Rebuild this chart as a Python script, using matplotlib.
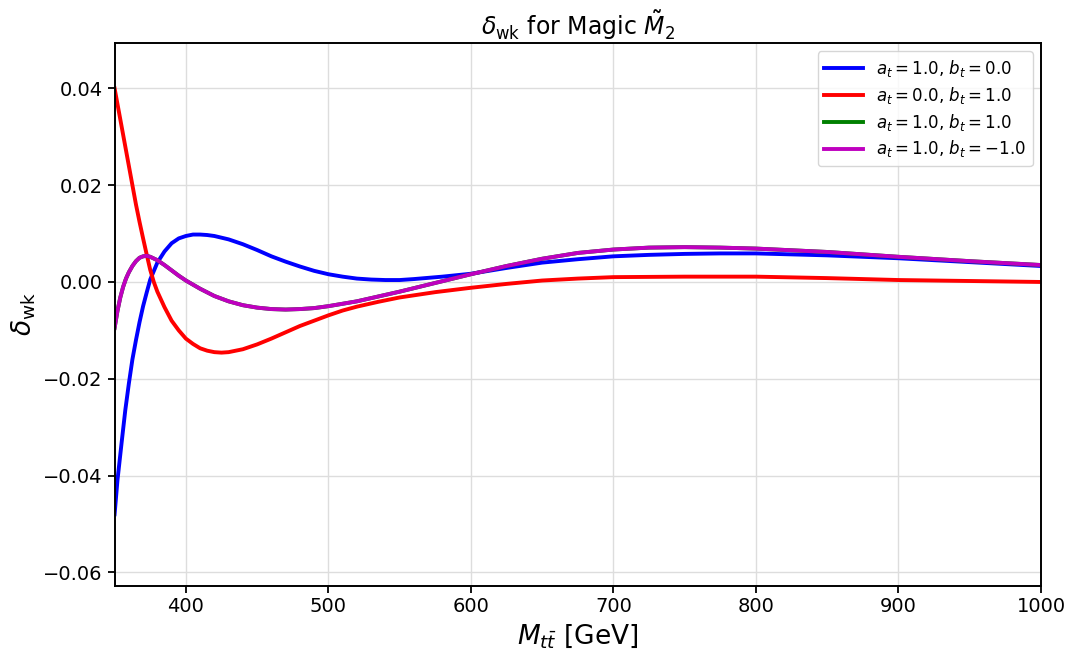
import matplotlib.pyplot as plt

# values
x_blue = [350, 352, 355, 357.5, 360, 362.5, 365, 367.5, 370, 372.5, 375, 380, 385, 390,
          395, 400, 405, 410, 415, 420, 430, 440, 450, 460, 470, 480, 490, 500, 510, 520,
          530, 540, 550, 560, 580, 600, 625, 650, 675, 700, 725, 750, 775, 800, 825, 850,
          875, 900, 950, 1000]
y_blue = [-0.048, -0.041, -0.033, -0.0265, -0.021, -0.016, -0.012, -0.0083, -0.005, -0.0022,
          0.0005, 0.004, 0.0063, 0.0080, 0.0090, 0.0095, 0.0098, 0.0098, 0.0097, 0.0095,
          0.0088, 0.0078, 0.0066, 0.0053, 0.0042, 0.0032, 0.0023, 0.0016, 0.0011, 0.0007,
          0.0005, 0.0004, 0.0004, 0.0006, 0.0011, 0.0017, 0.0029, 0.0040, 0.0047, 0.0053,
          0.0056, 0.0058, 0.0059, 0.0059, 0.0057, 0.0055, 0.0052, 0.0049, 0.0041, 0.0033]

x_red = [350, 352.5, 355, 357.5, 360, 362.5, 365, 367.5, 370, 372.5, 375, 377.5, 380, 385,
         390, 395, 400, 405, 410, 415, 420, 425, 430, 440, 450, 460, 470, 480, 490, 500,
         510, 520, 535, 550, 575, 600, 625, 650, 675, 700, 750, 800, 850, 900, 950, 1000]
y_red = [0.040, 0.036, 0.032, 0.028, 0.024, 0.020, 0.016, 0.0124, 0.009, 0.0057, 0.0025,
         0.0000, -0.002, -0.0052, -0.0080, -0.0100, -0.0117, -0.0128, -0.0137, -0.0142,
         -0.0145, -0.0146, -0.0145, -0.0139, -0.0129, -0.0117, -0.0104, -0.0091, -0.0080,
         -0.0069, -0.0059, -0.0051, -0.0041, -0.0032, -0.0021, -0.0012, -0.0004, 0.0003,
         0.0007, 0.0010, 0.0011, 0.0011, 0.0008, 0.0004, 0.0002, 0.0000]

x_mag = [350, 352, 354, 356, 358, 360, 362.5, 365, 367.5, 370, 372.5, 375, 380, 385, 390,
         395, 400, 410, 420, 430, 440, 450, 460, 470, 480, 490, 500, 510, 520, 535, 550,
         575, 600, 625, 650, 675, 700, 725, 750, 775, 800, 850, 900, 950, 1000]
y_mag = [-0.0095, -0.0060, -0.0032, -0.0010, 0.0007, 0.0020, 0.0033, 0.0043, 0.0050,
         0.0053, 0.0054, 0.0052, 0.0045, 0.0035, 0.0024, 0.0013, 0.0003, -0.0014, -0.0029,
         -0.0040, -0.0048, -0.0053, -0.0056, -0.0057, -0.0056, -0.0054, -0.0050, -0.0045,
         -0.0040, -0.0030, -0.0020, -0.0002, 0.0016, 0.0033, 0.0048, 0.0060, 0.0067,
         0.0071, 0.0072, 0.0071, 0.0069, 0.0062, 0.0052, 0.0043, 0.0035]

# green curve coincides with the magenta one
x_green = list(x_mag)
y_green = list(y_mag)

fig = plt.figure(figsize=(10.71, 6.5), dpi=100)
ax = fig.add_axes([0.107, 0.099, 0.865, 0.835])

ax.plot(x_blue, y_blue, color='blue', lw=2.8, label=r'$a_t = 1.0$, $b_t = 0.0$')
ax.plot(x_red, y_red, color='red', lw=2.8, label=r'$a_t = 0.0$, $b_t = 1.0$')
ax.plot(x_green, y_green, color='green', lw=2.8, label=r'$a_t = 1.0$, $b_t = 1.0$')
ax.plot(x_mag, y_mag, color='m', lw=2.8, label=r'$a_t = 1.0$, $b_t = -1.0$')

ax.set_xlim(350, 1000)
ax.set_ylim(-0.06275, 0.0494)
ax.set_yticks([-0.06, -0.04, -0.02, 0.00, 0.02, 0.04])
ax.grid(True, color='#dddddd', lw=1)
ax.tick_params(labelsize=14, width=1.3, length=5)
for s in ax.spines.values():
    s.set_linewidth(1.4)

ax.set_xlabel(r'$M_{t\bar{t}}$ [GeV]', fontsize=19)
ax.set_ylabel(r'$\delta_{\rm wk}$', fontsize=19)
ax.set_title(r'$\delta_{\rm wk}$ for Magic $\tilde{M}_2$', fontsize=17)
ax.legend(loc='upper right', fontsize=12, handlelength=2.3, labelspacing=0.35)

fig.savefig('out.png')
